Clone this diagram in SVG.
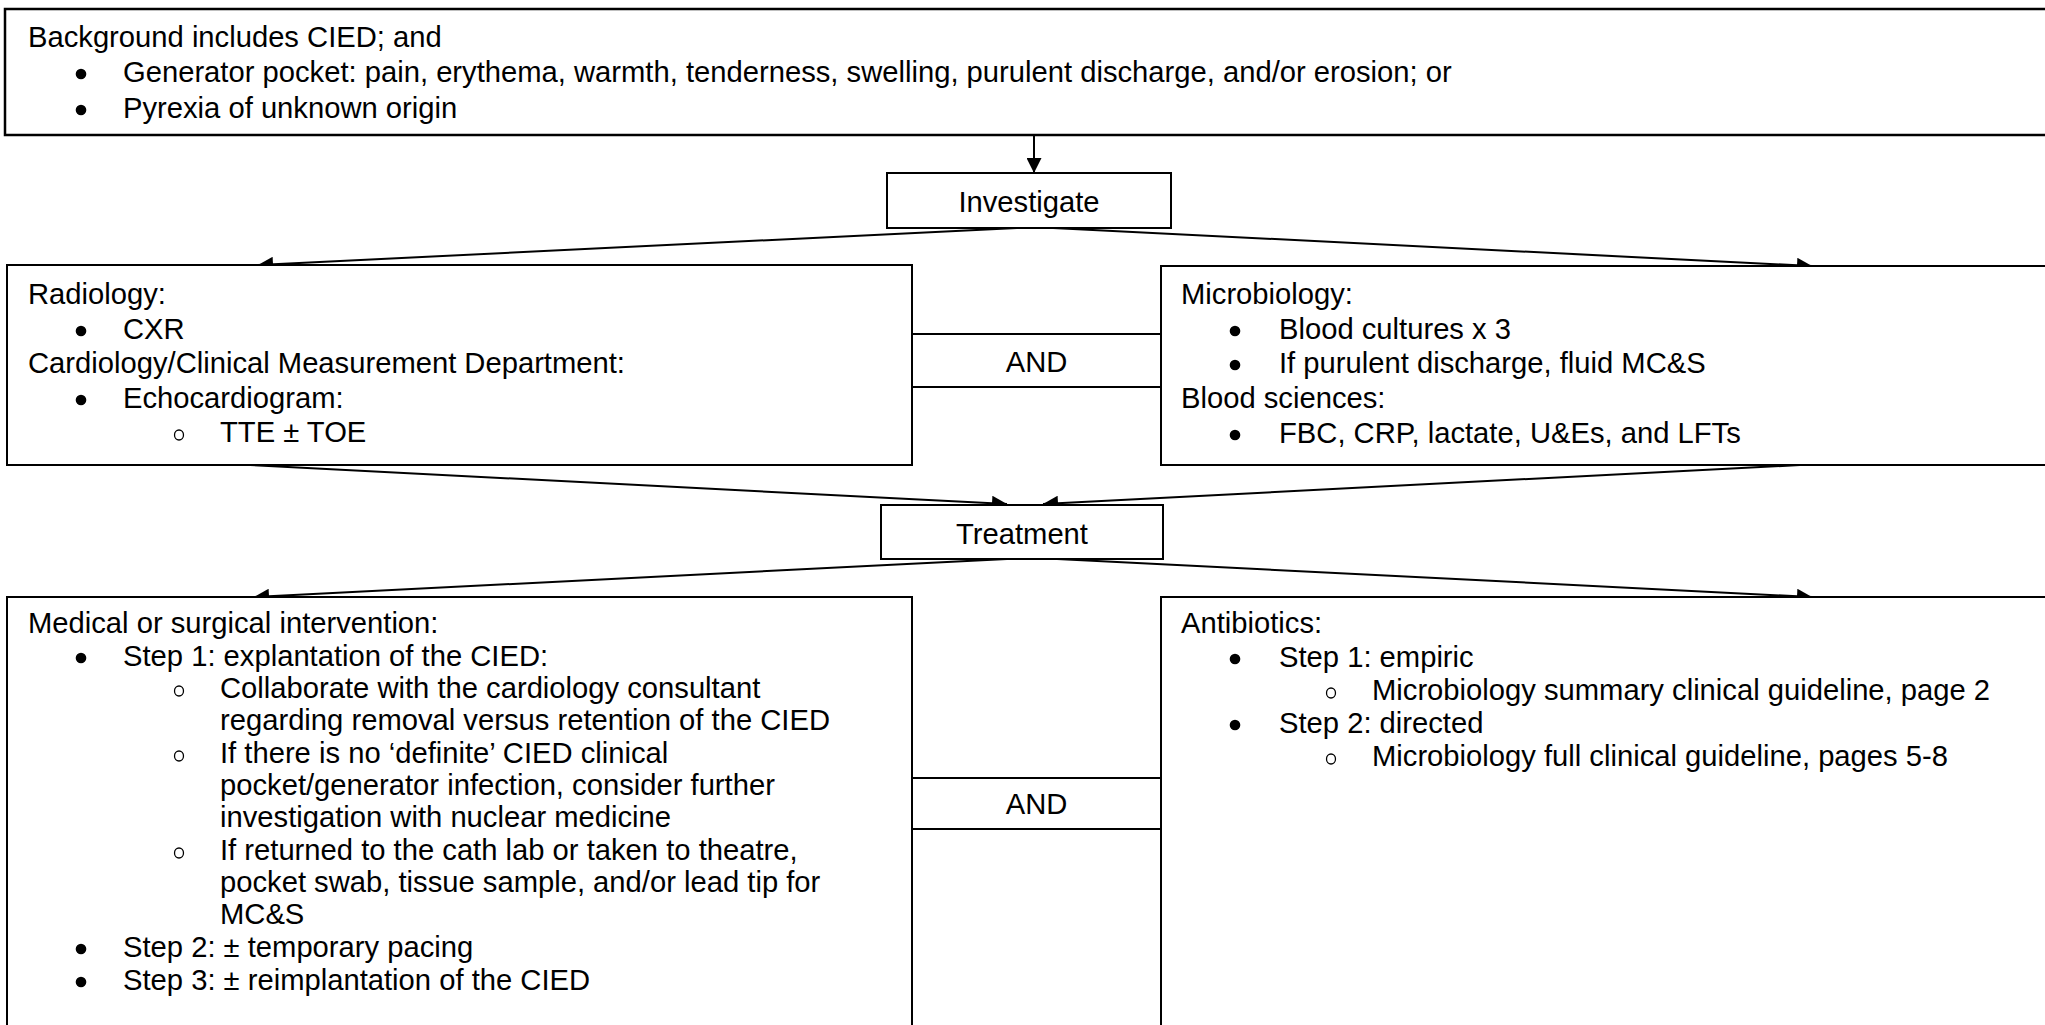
<svg xmlns="http://www.w3.org/2000/svg" width="2045" height="1025" viewBox="0 0 2045 1025">
<defs>
<style>
.box{fill:#fff;stroke:#000;stroke-width:2}
.t{font-family:"Liberation Sans",Arial,sans-serif;font-size:29.2px;fill:#000}
.c{text-anchor:middle}
.b{fill:#000}
.h{fill:none;stroke:#000;stroke-width:1.3}
.con{stroke:#000;stroke-width:2;fill:none;marker-end:url(#ah)}
</style>
<marker id="ah" viewBox="0 0 10 10" refX="10" refY="5" markerWidth="15" markerHeight="15" markerUnits="userSpaceOnUse" orient="auto">
<path d="M0,0 L10,5 L0,10 z" fill="#000"/>
</marker>
</defs>
<rect width="2045" height="1025" fill="#fff"/>

<g id="connectors">
<line class="con" x1="1034" y1="135" x2="1034" y2="173"/>
<line class="con" x1="1017" y1="228" x2="258" y2="265"/>
<line class="con" x1="1053" y1="228" x2="1812" y2="266"/>
<line class="con" x1="250" y1="465" x2="1007" y2="504"/>
<line class="con" x1="1800" y1="465" x2="1043" y2="504"/>
<line class="con" x1="1007" y1="559" x2="254" y2="597"/>
<line class="con" x1="1057" y1="559" x2="1812" y2="597"/>
</g>

<g id="n-background">
<rect class="box" x="5" y="9" width="2060" height="126" style="stroke-width:2.5"/>
<text class="t" x="28" y="47">Background includes CIED; and</text>
<circle class="b" cx="81" cy="74" r="5.3"/>
<text class="t" x="123" y="82">Generator pocket: pain, erythema, warmth, tenderness, swelling, purulent discharge, and/or erosion; or</text>
<circle class="b" cx="81" cy="110" r="5.3"/>
<text class="t" x="123" y="118">Pyrexia of unknown origin</text>
</g>

<g id="n-investigate">
<rect class="box" x="887" y="173" width="284" height="55"/>
<text class="t c" x="1029" y="212">Investigate</text>
</g>

<g id="n-radiology">
<rect class="box" x="7" y="265" width="905" height="200"/>
<text class="t" x="28" y="304">Radiology:</text>
<circle class="b" cx="81" cy="331" r="5.3"/>
<text class="t" x="123" y="339">CXR</text>
<text class="t" x="28" y="373">Cardiology/Clinical Measurement Department:</text>
<circle class="b" cx="81" cy="400" r="5.3"/>
<text class="t" x="123" y="408">Echocardiogram:</text>
<ellipse class="h" cx="179" cy="435" rx="4.5" ry="5"/>
<text class="t" x="220" y="442">TTE ± TOE</text>
</g>

<g id="n-and1">
<rect class="box" x="912" y="334" width="249" height="53"/>
<text class="t c" x="1036.5" y="372">AND</text>
</g>

<g id="n-microbiology">
<rect class="box" x="1161" y="266" width="900" height="199"/>
<text class="t" x="1181" y="304">Microbiology:</text>
<circle class="b" cx="1235" cy="331" r="5.3"/>
<text class="t" x="1279" y="339">Blood cultures x 3</text>
<circle class="b" cx="1235" cy="365" r="5.3"/>
<text class="t" x="1279" y="373">If purulent discharge, fluid MC&amp;S</text>
<text class="t" x="1181" y="408">Blood sciences:</text>
<circle class="b" cx="1235" cy="435" r="5.3"/>
<text class="t" x="1279" y="443">FBC, CRP, lactate, U&amp;Es, and LFTs</text>
</g>

<g id="n-treatment">
<rect class="box" x="881" y="505" width="282" height="54"/>
<text class="t c" x="1022" y="544">Treatment</text>
</g>

<g id="n-intervention">
<rect class="box" x="7" y="597" width="905" height="440"/>
<text class="t" x="28" y="633">Medical or surgical intervention:</text>
<circle class="b" cx="81" cy="658" r="5.3"/>
<text class="t" x="123" y="666">Step 1: explantation of the CIED:</text>
<ellipse class="h" cx="179" cy="691" rx="4.5" ry="5"/>
<text class="t" x="220" y="698">Collaborate with the cardiology consultant</text>
<text class="t" x="220" y="730">regarding removal versus retention of the CIED</text>
<ellipse class="h" cx="179" cy="756" rx="4.5" ry="5"/>
<text class="t" x="220" y="763">If there is no ‘definite’ CIED clinical</text>
<text class="t" x="220" y="795">pocket/generator infection, consider further</text>
<text class="t" x="220" y="827">investigation with nuclear medicine</text>
<ellipse class="h" cx="179" cy="853" rx="4.5" ry="5"/>
<text class="t" x="220" y="860">If returned to the cath lab or taken to theatre,</text>
<text class="t" x="220" y="892">pocket swab, tissue sample, and/or lead tip for</text>
<text class="t" x="220" y="924">MC&amp;S</text>
<circle class="b" cx="81" cy="949" r="5.3"/>
<text class="t" x="123" y="957">Step 2: ± temporary pacing</text>
<circle class="b" cx="81" cy="982" r="5.3"/>
<text class="t" x="123" y="990">Step 3: ± reimplantation of the CIED</text>
</g>

<g id="n-and2">
<rect class="box" x="912" y="778" width="249" height="51"/>
<text class="t c" x="1036.5" y="814">AND</text>
</g>

<g id="n-antibiotics">
<rect class="box" x="1161" y="597" width="900" height="440"/>
<text class="t" x="1181" y="633">Antibiotics:</text>
<circle class="b" cx="1235" cy="659" r="5.3"/>
<text class="t" x="1279" y="667">Step 1: empiric</text>
<ellipse class="h" cx="1331" cy="693" rx="4.5" ry="5"/>
<text class="t" x="1372" y="700">Microbiology summary clinical guideline, page 2</text>
<circle class="b" cx="1235" cy="725" r="5.3"/>
<text class="t" x="1279" y="733">Step 2: directed</text>
<ellipse class="h" cx="1331" cy="759" rx="4.5" ry="5"/>
<text class="t" x="1372" y="766">Microbiology full clinical guideline, pages 5-8</text>
</g>
</svg>
